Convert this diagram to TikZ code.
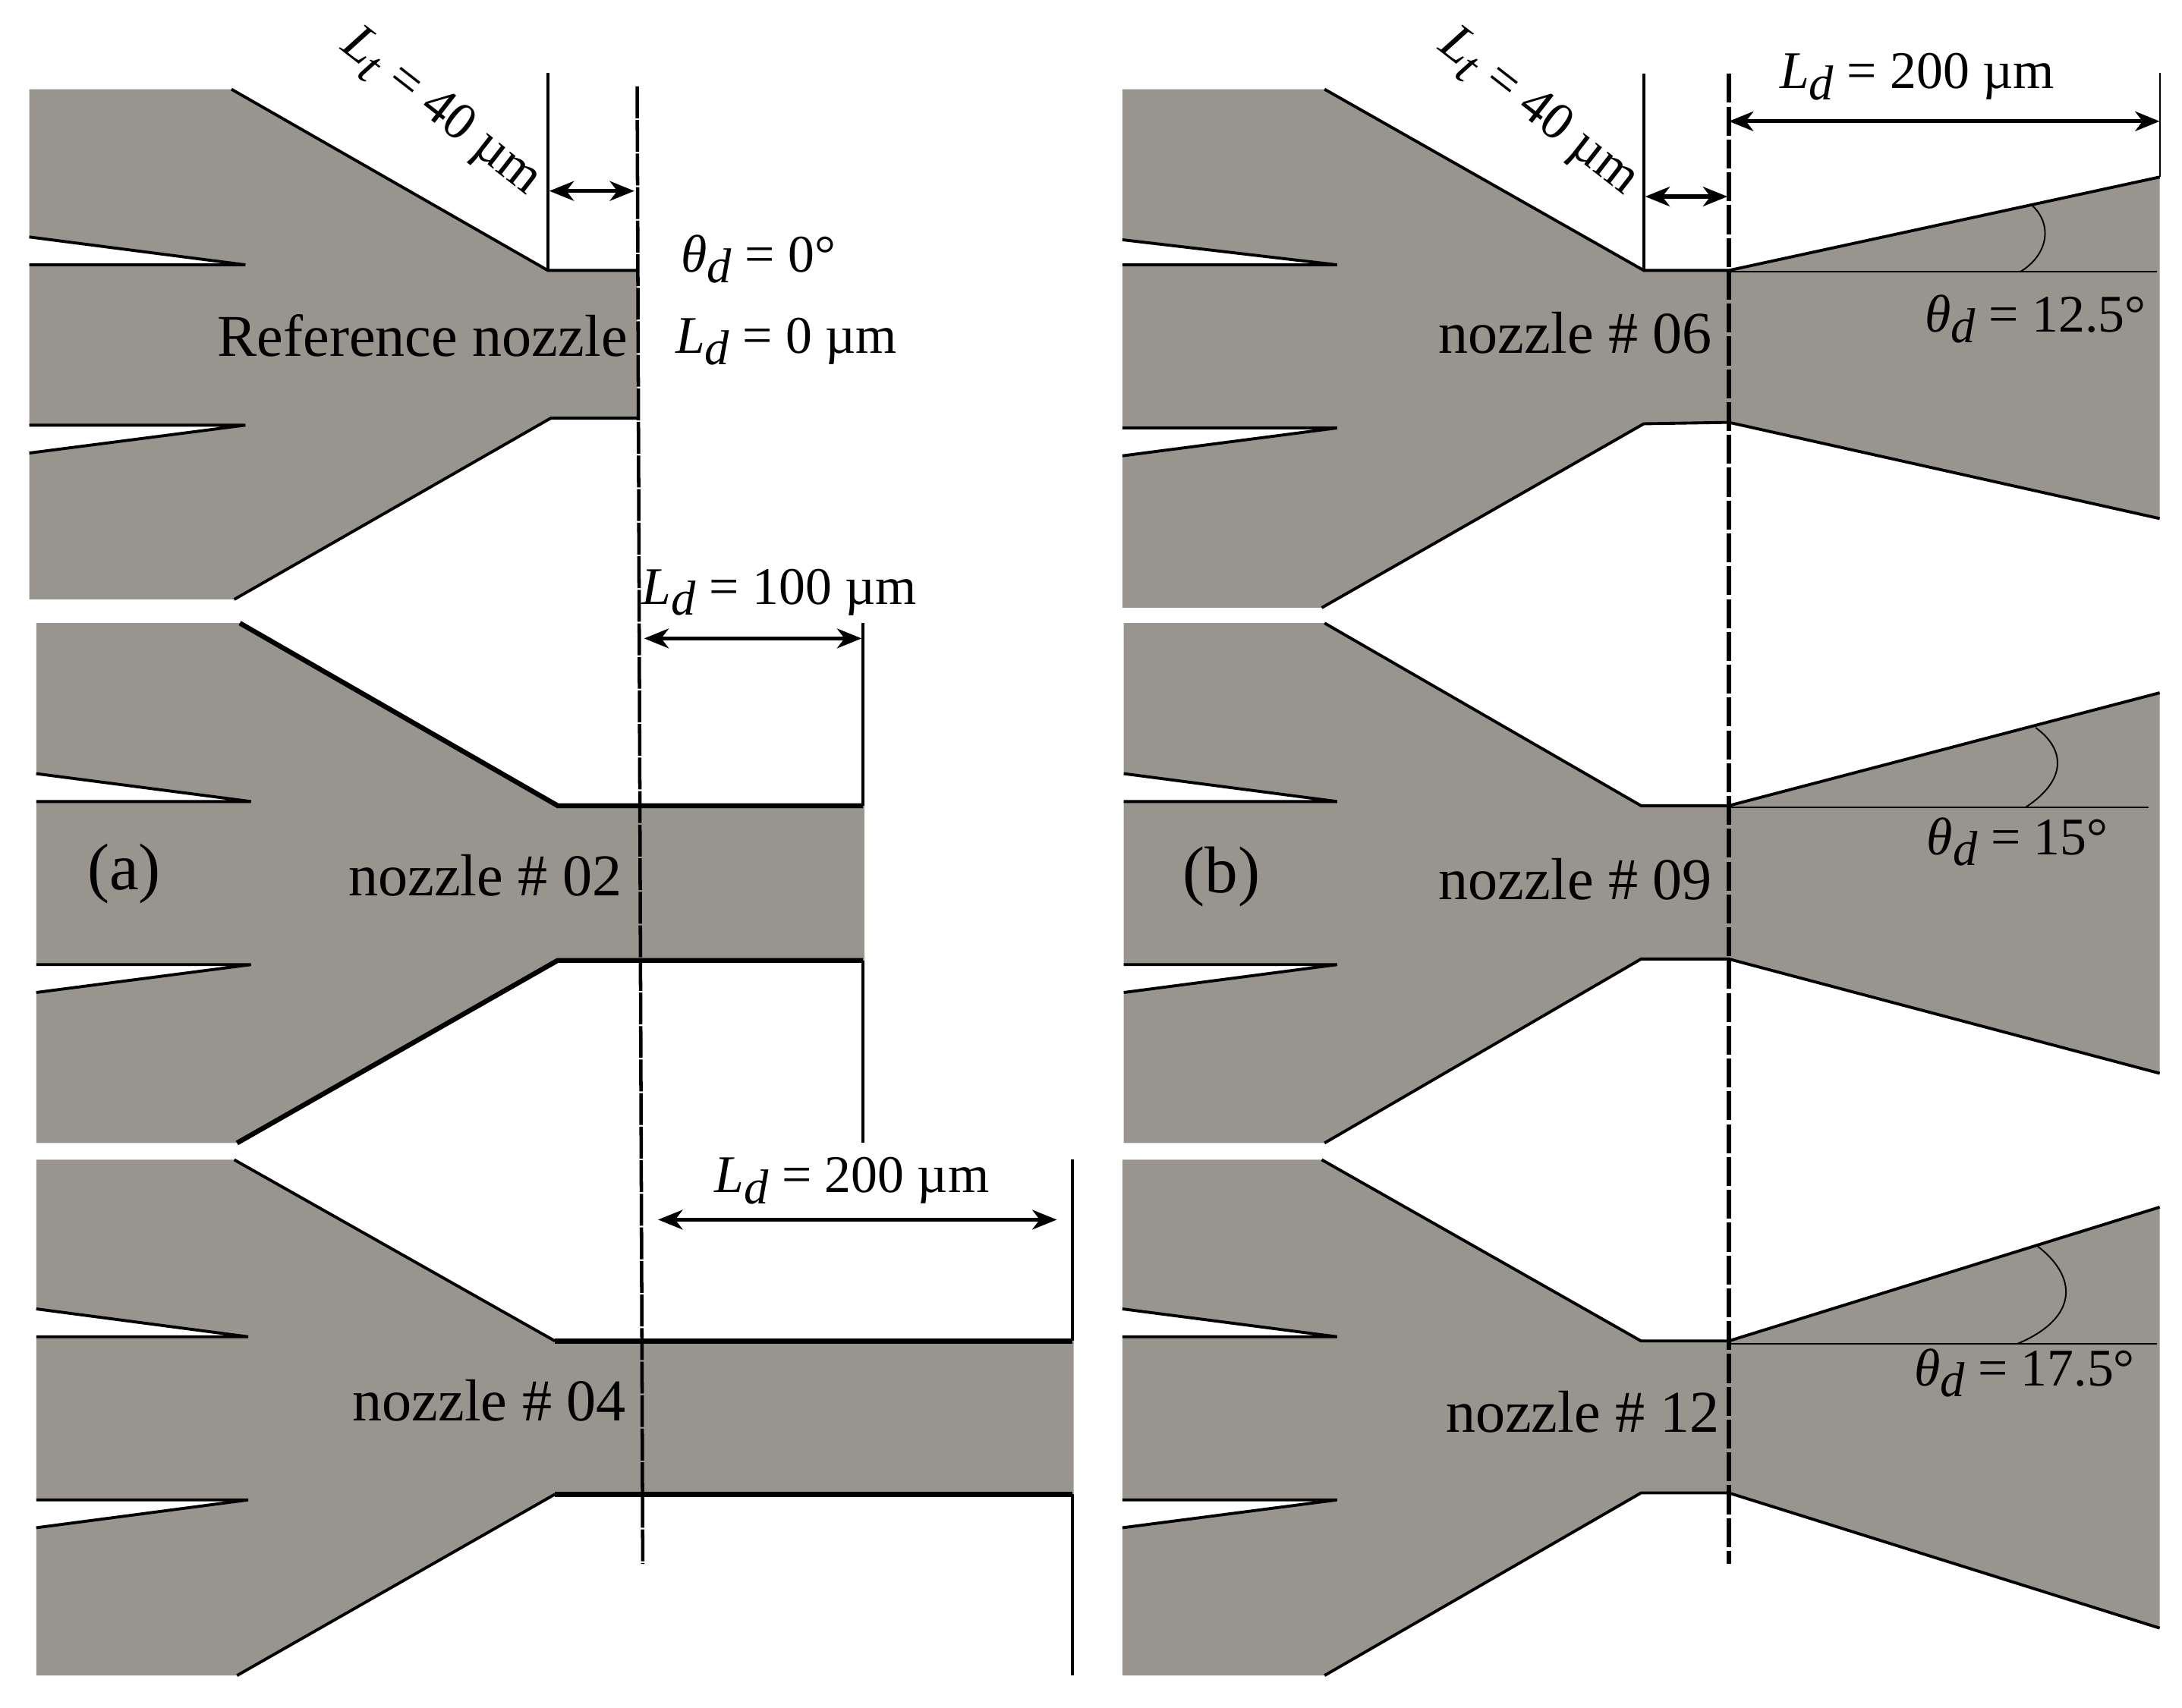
\documentclass[tikz,border=0pt]{standalone}
\usepackage{fontspec}
\usetikzlibrary{arrows.meta}
\setmainfont{Liberation Serif}
\definecolor{nozzlegray}{HTML}{98958F}
\newcommand{\symsub}[2]{\textit{#1}\raisebox{-0.45ex}{\textit{\normalsize #2}}}
\tikzset{
  nozzlebody/.style={fill=nozzlegray,draw=none},
  edge/.style={line width=0.6pt,line join=miter},
  edgeb/.style={line width=1pt,line join=miter},
  wire/.style={line width=0.6pt},
  thin wire/.style={line width=0.3pt},
  axisl/.style={line width=0.7pt,dash pattern=on 6.5pt off 0.35pt},
  axisr/.style={line width=0.9pt,dash pattern=on 5.9pt off 0.8pt},
  dim/.style={{Stealth[length=5pt,width=4pt,inset=1.5pt]}-{Stealth[length=5pt,width=4pt,inset=1.5pt]},line width=0.8pt},
  lab/.style={inner sep=0pt,font=\fontsize{12.1}{14}\selectfont},
  dimlab/.style={inner sep=0pt,font=\fontsize{10.8}{13}\selectfont},
  panel/.style={inner sep=0pt,font=\fontsize{13.5}{16}\selectfont}
}

\begin{document}
\begin{tikzpicture}[x=0.1mm,y=-0.1mm]

    % Fix the page size
    \useasboundingbox (0,0) rectangle (1565,1225);
    \fill[white] (0,0) rectangle (1565,1225);

    % Gray bodies, left column
    \fill[nozzlebody] (21,64) -- (166,64) -- (393,194) -- (457,194) -- (457,300) -- (395,300) -- (168,430) -- (21,430) -- (21,325) -- (176,305) -- (21,305) -- (21,190) -- (176,190) -- (21,170) -- cycle;
    \fill[nozzlebody] (26,447) -- (172,447) -- (400,578) -- (620,578) -- (620,689) -- (400,689) -- (170,820) -- (26,820) -- (26,712) -- (180,692) -- (26,692) -- (26,575) -- (180,575) -- (26,555) -- cycle;
    \fill[nozzlebody] (26,832) -- (168,832) -- (398,962) -- (770,962) -- (770,1072) -- (398,1072) -- (170,1202) -- (26,1202) -- (26,1096) -- (178,1076) -- (26,1076) -- (26,959) -- (178,959) -- (26,939) -- cycle;

    % Gray bodies, right column
    \fill[nozzlebody] (805,64) -- (950,64) -- (1179,194) -- (1240,194) -- (1549,127) -- (1549,372) -- (1240,303) -- (1179,304) -- (948,436) -- (805,436) -- (805,327) -- (959,307) -- (805,307) -- (805,190) -- (959,190) -- (805,172) -- cycle;
    \fill[nozzlebody] (806,447) -- (950,447) -- (1177,578) -- (1240,578) -- (1549,497) -- (1549,770) -- (1240,688) -- (1177,688) -- (950,820) -- (806,820) -- (806,712) -- (959,692) -- (806,692) -- (806,575) -- (959,575) -- (806,555) -- cycle;
    \fill[nozzlebody] (805,832) -- (948,832) -- (1177,962) -- (1240,962) -- (1549,866) -- (1549,1168) -- (1240,1071) -- (1177,1071) -- (950,1202) -- (805,1202) -- (805,1096) -- (959,1076) -- (805,1076) -- (805,959) -- (959,959) -- (805,939) -- cycle;

    % Black outlines, left column
    \draw[edge] (166,64) -- (393,194) -- (457,194);
    \draw[edge] (457,300) -- (395,300) -- (168,430);
    \draw[edge] (21,170) -- (176,190) -- (21,190);
    \draw[edge] (21,325) -- (176,305) -- (21,305);
    \draw[edgeb] (172,447) -- (400,578) -- (619,578);
    \draw[edgeb] (619,689) -- (400,689) -- (170,820);
    \draw[edge] (26,555) -- (180,575) -- (26,575);
    \draw[edge] (26,712) -- (180,692) -- (26,692);
    \draw[edge] (168,832) -- (398,962);
    \draw[edgeb] (398,962) -- (769,962);
    \draw[edgeb] (769,1072) -- (398,1072);
    \draw[edge] (398,1072) -- (170,1202);
    \draw[edge] (26,939) -- (178,959) -- (26,959);
    \draw[edge] (26,1096) -- (178,1076) -- (26,1076);

    % Black outlines, right column
    \draw[edge] (950,64) -- (1179,194) -- (1240,194) -- (1549,127);
    \draw[edge] (1549,372) -- (1240,303) -- (1179,304) -- (948,436);
    \draw[edge] (805,172) -- (959,190) -- (805,190);
    \draw[edge] (805,327) -- (959,307) -- (805,307);
    \draw[edge] (950,447) -- (1177,578) -- (1240,578) -- (1549,497);
    \draw[edge] (1549,770) -- (1240,688) -- (1177,688) -- (950,820);
    \draw[edge] (806,555) -- (959,575) -- (806,575);
    \draw[edge] (806,712) -- (959,692) -- (806,692);
    \draw[edge] (948,832) -- (1177,962) -- (1240,962) -- (1549,866);
    \draw[edge] (1549,1168) -- (1240,1071) -- (1177,1071) -- (950,1202);
    \draw[edge] (805,939) -- (959,959) -- (805,959);
    \draw[edge] (805,1096) -- (959,1076) -- (805,1076);

    % Extension lines and the throat exit lines
    \coordinate (LtA) at (393,52);
    \coordinate (LtB) at (393,194);
    \coordinate (ExitA) at (457,62);
    \coordinate (ExitB) at (461,1122);
    \coordinate (SideA) at (619,447);
    \coordinate (SideB) at (619,578);
    \coordinate (SideC) at (619,689);
    \coordinate (SideD) at (619,820);
    \coordinate (EndA) at (769,832);
    \coordinate (EndB) at (769,962);
    \coordinate (EndC) at (769,1072);
    \coordinate (EndD) at (769,1202);
    \coordinate (RtA) at (1179,53);
    \coordinate (RtB) at (1179,194);
    \coordinate (RexitA) at (1240,53);
    \coordinate (RexitB) at (1240,1122);
    \coordinate (RendA) at (1549,52);
    \coordinate (RendB) at (1549,127);
    \draw[wire] (LtA) -- (LtB);
    \draw[axisl] (ExitA) -- (ExitB);
    \draw[wire] (SideA) -- (SideB);
    \draw[wire] (SideC) -- (SideD);
    \draw[wire] (EndA) -- (EndB);
    \draw[wire] (EndC) -- (EndD);
    \draw[wire] (RtA) -- (RtB);
    \draw[axisr] (RexitA) -- (RexitB);
    \draw[thin wire] (RendA) -- (RendB);

    % Dimension arrows
    \coordinate (DimA) at (394,137);
    \coordinate (DimB) at (455,137);
    \coordinate (DimC) at (462,458);
    \coordinate (DimD) at (618,458);
    \coordinate (DimE) at (472,875);
    \coordinate (DimF) at (758,875);
    \coordinate (DimG) at (1180,141);
    \coordinate (DimH) at (1239,141);
    \coordinate (DimI) at (1240,87);
    \coordinate (DimJ) at (1549,87);
    \draw[dim] (DimA) -- (DimB);
    \draw[dim] (DimC) -- (DimD);
    \draw[dim] (DimE) -- (DimF);
    \draw[dim] (DimG) -- (DimH);
    \draw[dim] (DimI) -- (DimJ);

    % Horizontal reference lines and angle arcs
    \coordinate (ApexA) at (1240,195);
    \coordinate (BaseA) at (1547,195);
    \coordinate (ApexB) at (1240,579);
    \coordinate (BaseB) at (1541,579);
    \coordinate (ApexC) at (1240,964);
    \coordinate (BaseC) at (1547,964);
    \draw[thin wire] (ApexA) -- (BaseA);
    \draw[thin wire] (ApexB) -- (BaseB);
    \draw[thin wire] (ApexC) -- (BaseC);
    \draw[thin wire] (1457,147) .. controls (1472,160) and (1470,182) .. (1449,195);
    \draw[thin wire] (1460,522) .. controls (1482,538) and (1482,560) .. (1453,579);
    \draw[thin wire] (1460,893) .. controls (1490,915) and (1492,945) .. (1447,964);

    % Labels on the nozzles
    \node[lab] (refname) at (303,241) {Reference nozzle};
    \node[lab] (name02) at (348,628) {nozzle \# 02};
    \node[lab] (name04) at (351,1005) {nozzle \# 04};
    \node[lab] (name06) at (1130,239) {nozzle \# 06};
    \node[lab] (name09) at (1130,631) {nozzle \# 09};
    \node[lab] (name12) at (1135,1013) {nozzle \# 12};
    \node[panel] (pa) at (89,627) {(a)};
    \node[panel] (pb) at (876,629) {(b)};

    % Labels of the lengths
    \node[dimlab,rotate=-38] (ltleft) at (316,81) {\symsub{L}{t} = 40 µm};
    \node[dimlab,rotate=-38] (ltright) at (1103,81) {\symsub{L}{t} = 40 µm};
    \node[dimlab] (ldzero) at (564,245) {\symsub{L}{d} = 0 µm};
    \node[dimlab] (ldhund) at (559,425) {\symsub{L}{d} = 100 µm};
    \node[dimlab] (ldtwoa) at (611,847) {\symsub{L}{d} = 200 µm};
    \node[dimlab] (ldtwob) at (1375,55) {\symsub{L}{d} = 200 µm};

    % Labels of the angles
    \node[dimlab] (thzero) at (544,186) {\symsub{θ}{d} = 0°};
    \node[dimlab] (thone) at (1460,229) {\symsub{θ}{d} = 12.5°};
    \node[dimlab] (thtwo) at (1447,604) {\symsub{θ}{d} = 15°};
    \node[dimlab] (ththree) at (1452,985) {\symsub{θ}{d} = 17.5°};

\end{tikzpicture}
\end{document}
